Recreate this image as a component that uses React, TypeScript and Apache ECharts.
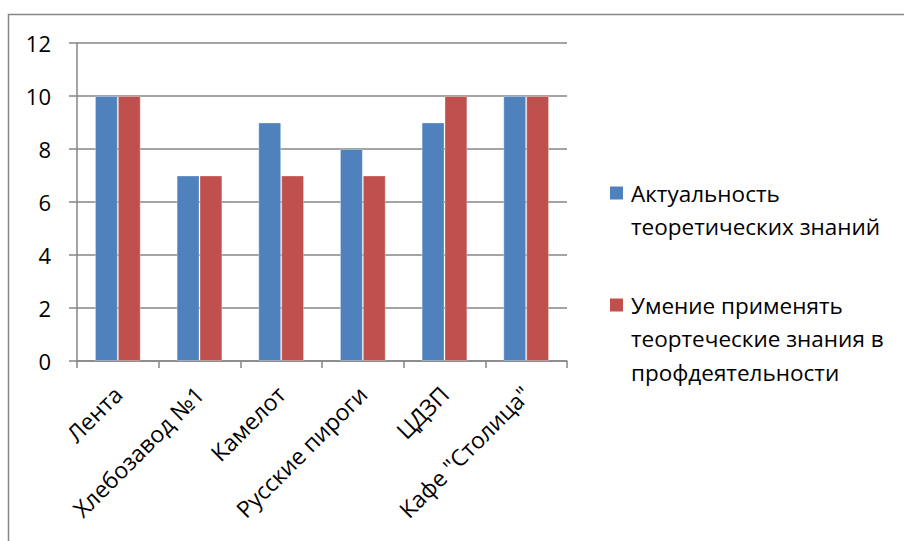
import React, { useEffect, useRef } from "react";
import * as echarts from "echarts";

const categories = ["Лента", "Хлебозавод №1", "Камелот", "Русские пироги", "ЦДЗП", "Кафе \"Столица\""];
const seriesNames = ["Актуальность теоретических знаний", "Умение применять теортеческие знания в профдеятельности"];
const seriesA = [10, 7, 9, 8, 9, 10];
const seriesB = [10, 7, 7, 7, 10, 10];
const legendLines = [
  ["Актуальность", "теоретических знаний"],
  ["Умение применять", "теортеческие знания в", "профдеятельности"],
];
const colors = ["#4F81BD", "#C0504D"];
const yTicks = { min: 0, max: 12, interval: 2 };

const FONT = "'Open Sans', sans-serif";
const GRAY = "#868686";

export default function App() {
  const ref = useRef<HTMLDivElement>(null);
  useEffect(() => {
    if (!ref.current) return;
    const chart = echarts.init(ref.current, undefined, { renderer: "svg" });
    const legendGraphics: any[] = [];
    const itemTops = [193, 305];
    legendLines.forEach((lines, i) => {
      legendGraphics.push({
        type: "rect",
        shape: { x: 610, y: itemTops[i] - 6.5, width: 13, height: 13 },
        style: { fill: colors[i] },
      });
      lines.forEach((ln, j) => {
        legendGraphics.push({
          type: "text",
          x: 631,
          y: itemTops[i] + j * 33.7,
          style: { text: ln, font: `22.5px ${FONT}`, fill: "#000", verticalAlign: "middle", align: "left" },
        });
      });
    });
    chart.setOption({
      animation: false,
      textStyle: { fontFamily: FONT },
      grid: { left: 77, right: 337, top: 43, bottom: 180, containLabel: false },
      xAxis: {
        type: "category",
        data: categories,
        axisLine: { show: true, lineStyle: { color: GRAY, width: 1.5 } },
        axisTick: { show: true, length: 7, lineStyle: { color: GRAY, width: 1.5 } },
        axisLabel: { rotate: 45, margin: 29, fontSize: 23, color: "#000", fontFamily: FONT, interval: 0 },
      },
      yAxis: {
        type: "value",
        min: yTicks.min,
        max: yTicks.max,
        interval: yTicks.interval,
        axisLine: { show: true, lineStyle: { color: GRAY, width: 1.5 } },
        axisTick: { show: true, length: 8, lineStyle: { color: GRAY, width: 1.5 } },
        splitLine: { show: true, lineStyle: { color: GRAY, width: 1.5 } },
        axisLabel: { margin: 26, fontSize: 22, color: "#000", fontFamily: FONT },
      },
      series: [
        { name: seriesNames[0], type: "bar", data: seriesA, itemStyle: { color: colors[0], borderColor: "rgba(255,255,255,0.3)", borderWidth: 1 }, barGap: "0%", barCategoryGap: "44%" },
        { name: seriesNames[1], type: "bar", data: seriesB, itemStyle: { color: colors[1], borderColor: "rgba(255,255,255,0.3)", borderWidth: 1 }, barGap: "0%", barCategoryGap: "44%" },
      ],
      graphic: [
        {
          type: "rect",
          shape: { x: 8.5, y: 14.5, width: 1200, height: 1200 },
          style: { fill: "none", stroke: GRAY, lineWidth: 1.5 },
          silent: true,
        },
        ...legendGraphics,
      ],
    });
    return () => chart.dispose();
  }, []);
  return (
    <div style={{ position: "fixed", left: 0, top: 0, width: 904, height: 541, overflow: "hidden", background: "#fff" }}>
      <div ref={ref} style={{ width: 904, height: 541 }} />
    </div>
  );
}
